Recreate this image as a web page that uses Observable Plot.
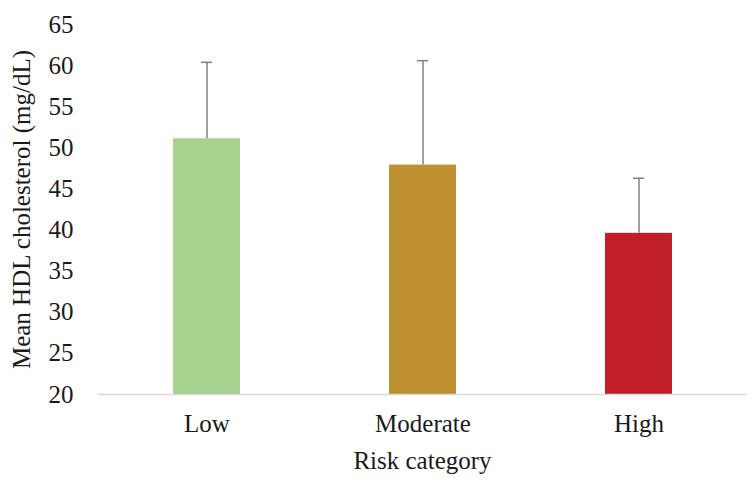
<!DOCTYPE html>
<html>
<head>
<meta charset="utf-8">
<script src="https://cdn.jsdelivr.net/npm/d3@7"></script>
<script src="https://cdn.jsdelivr.net/npm/@observablehq/plot@0.6"></script>
<style>
  html, body { margin: 0; padding: 0; background: #fff; }
  #chart svg { display: block; }
</style>
</head>
<body>
<div id="chart"></div>
<script>
// Mean HDL cholesterol by risk category, with one standard deviation shown above each bar
const categories = ["Low", "Moderate", "High"];
const means = [51.1, 47.9, 39.6];
const sds = [9.3, 12.7, 6.7];
const colors = ["#a9d18e", "#bf9030", "#c01f27"];
const yTicks = [20, 25, 30, 35, 40, 45, 50, 55, 60, 65];

const rows = categories.map((c, i) => ({
  category: c,
  mean: means[i],
  upper: means[i] + sds[i]
}));

const chart = Plot.plot({
  width: 750,
  height: 486,
  marginLeft: 98,
  marginRight: 4,
  marginTop: 24,
  marginBottom: 92,
  style: {fontFamily: "'Liberation Serif', 'Times New Roman', serif", fontSize: "25px", color: "#1a1a1a", background: "#fff"},
  x: {domain: categories, paddingInner: 0.69, paddingOuter: 0.345, label: null},
  y: {domain: [20, 65], label: null},
  color: {domain: categories, range: colors},
  marks: [
    Plot.barY(rows, {x: "category", y1: 20, y2: "mean", fill: "category"}),
    Plot.ruleX(rows, {x: "category", y1: "mean", y2: "upper", stroke: "#808080", strokeWidth: 1.5}),
    // short caps on the error bars
    Plot.tickY(rows, {x: "category", y: "upper", stroke: "#808080", strokeWidth: 1.5, insetLeft: 28, insetRight: 28}),
    Plot.ruleY([20], {stroke: "#d9d9d9", strokeWidth: 1.5}),
    Plot.axisY({ticks: yTicks, tickSize: 0, tickPadding: 25, label: "Mean HDL cholesterol (mg/dL)", labelAnchor: "center", labelArrow: false, labelOffset: 86}),
    Plot.axisX({tickSize: 0, tickPadding: 20, label: "Risk category", labelAnchor: "center", labelArrow: false, labelOffset: 74})
  ]
});

document.getElementById("chart").appendChild(chart);
</script>
</body>
</html>
